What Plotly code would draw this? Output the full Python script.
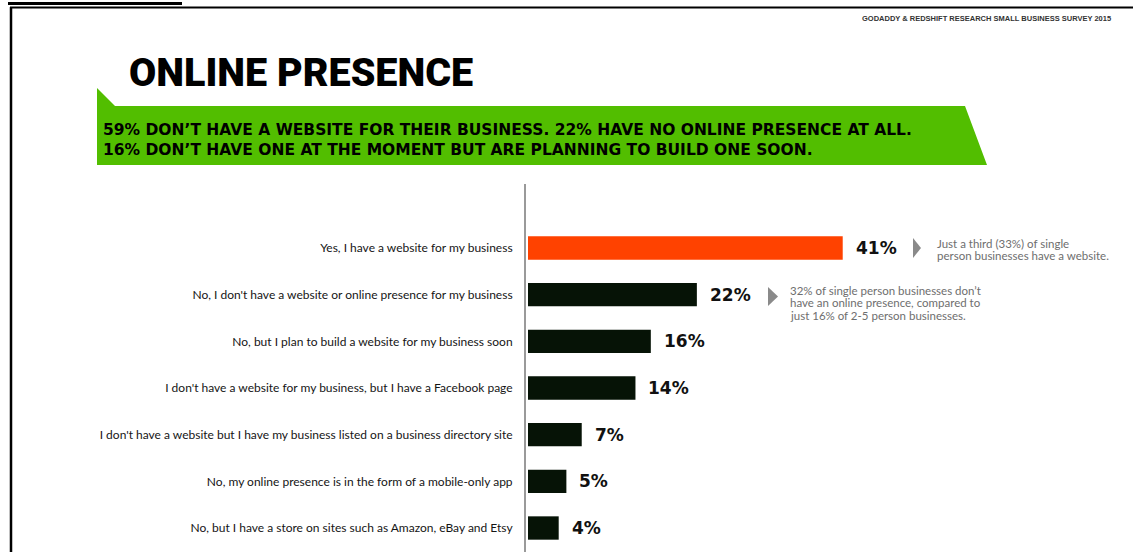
import plotly.graph_objects as go

categories = [
    "Yes, I have a website for my business",
    "No, I don't have a website or online presence for my business",
    "No, but I plan to build a website for my business soon",
    "I don't have a website for my business, but I have a Facebook page",
    "I don't have a website but I have my business listed on a business directory site",
    "No, my online presence is in the form of a mobile-only app",
    "No, but I have a store on sites such as Amazon, eBay and Etsy",
]
values = [41, 22, 16, 14, 7, 5, 4]
value_labels = ["41%", "22%", "16%", "14%", "7%", "5%", "4%"]
title = "ONLINE PRESENCE"
banner_lines = [
    "59% DON\u2019T HAVE A WEBSITE FOR THEIR BUSINESS. 22% HAVE NO ONLINE PRESENCE AT ALL.",
    "16% DON\u2019T HAVE ONE AT THE MOMENT BUT ARE PLANNING TO BUILD ONE SOON.",
]
header = "GODADDY & REDSHIFT RESEARCH SMALL BUSINESS SURVEY 2015"
note1 = ["Just a third (33%) of single", "person businesses have a website."]
note2 = ["32% of single person businesses don\u2019t", "have an online presence, compared to", "just 16% of 2-5 person businesses."]

W, H = 1133, 552
L, T = 526, 184
PW, PH = W - L, H - T

def px(X):
    return (X - L) / PW

def py(Y):
    return (H - Y) / PH

colors = ["#FF4200"] + ["#061306"] * (len(values) - 1)

fig = go.Figure(go.Bar(
    x=values, y=categories, orientation="h",
    marker=dict(color=colors, line=dict(width=0)),
    hoverinfo="skip",
))

slope = 7.676
x0 = -2.0 / slope
fig.update_layout(
    width=W, height=H,
    margin=dict(l=L, r=0, t=T, b=0),
    paper_bgcolor="white", plot_bgcolor="white",
    showlegend=False,
    bargap=0.5,
    xaxis=dict(range=[x0, x0 + PW / slope], showgrid=False, zeroline=False,
               showticklabels=False, showline=False, fixedrange=True),
    yaxis=dict(range=[6.514, -1.371], showgrid=False, zeroline=False,
               showline=True, linecolor="#9a9a9a", linewidth=2,
               ticks="outside", ticklen=9, tickcolor="rgba(0,0,0,0)",
               tickfont=dict(family="Lato", size=12, color="#151515"),
               fixedrange=True),
)

annotations = []
for c, v, lab in zip(categories, values, value_labels):
    annotations.append(dict(
        x=v, y=c, xref="x", yref="y", text=lab, showarrow=False,
        xanchor="left", yanchor="middle", xshift=11,
        font=dict(family="DejaVu Sans", size=17, color="#111111", weight="bold"),
    ))

annotations.append(dict(
    x=px(127), y=py(72), xref="paper", yref="paper", text=title, showarrow=False,
    xanchor="left", yanchor="middle",
    font=dict(family="Roboto", size=39.5, color="#000000", weight=900),
))
for i, line in enumerate(banner_lines):
    annotations.append(dict(
        x=px(101), y=py(130 + 20 * i), xref="paper", yref="paper", text=line,
        showarrow=False, xanchor="left", yanchor="middle",
        font=dict(family="DejaVu Sans", size=15.5, color="#000000", weight="bold"),
    ))
annotations.append(dict(
    x=px(1113), y=py(19), xref="paper", yref="paper", text=header, showarrow=False,
    xanchor="right", yanchor="middle",
    font=dict(family="Liberation Sans", size=7.5, color="#333333", weight="bold"),
))
for i, line in enumerate(note1):
    annotations.append(dict(
        x=px(935), y=py(243 + 12.5 * i), xref="paper", yref="paper", text=line,
        showarrow=False, xanchor="left", yanchor="middle",
        font=dict(family="Lato", size=11.5, color="#6e6e6e"),
    ))
for i, line in enumerate(note2):
    annotations.append(dict(
        x=px(788), y=py(290 + 12.5 * i), xref="paper", yref="paper", text=line,
        showarrow=False, xanchor="left", yanchor="middle",
        font=dict(family="Lato", size=11.5, color="#6e6e6e"),
    ))
fig.update_layout(annotations=annotations)

def path(points):
    return "M " + " L ".join(f"{px(a)},{py(b)}" for a, b in points) + " Z"

shapes = [
    dict(type="path", xref="paper", yref="paper",
         path=path([(97, 88), (115, 106), (965, 106), (987, 165), (97, 165)]),
         fillcolor="#52BE00", line=dict(width=0), layer="below"),
    dict(type="path", xref="paper", yref="paper",
         path=path([(913, 238), (921, 248), (913, 258)]),
         fillcolor="#8a8a8a", line=dict(width=0)),
    dict(type="path", xref="paper", yref="paper",
         path=path([(768, 287), (778, 296.5), (768, 306)]),
         fillcolor="#8a8a8a", line=dict(width=0)),
    dict(type="line", xref="paper", yref="paper",
         x0=px(8), x1=px(182), y0=py(3.5), y1=py(3.5),
         line=dict(color="#000000", width=3)),
    dict(type="line", xref="paper", yref="paper",
         x0=px(10), x1=px(1133), y0=py(7.5), y1=py(7.5),
         line=dict(color="#000000", width=2)),
    dict(type="line", xref="paper", yref="paper",
         x0=px(11), x1=px(11), y0=py(7), y1=py(552),
         line=dict(color="#000000", width=2.5)),
]
fig.update_layout(shapes=shapes)

fig.write_html("out.html", config={"displayModeBar": False},
               post_script="document.body.style.margin='0';")
